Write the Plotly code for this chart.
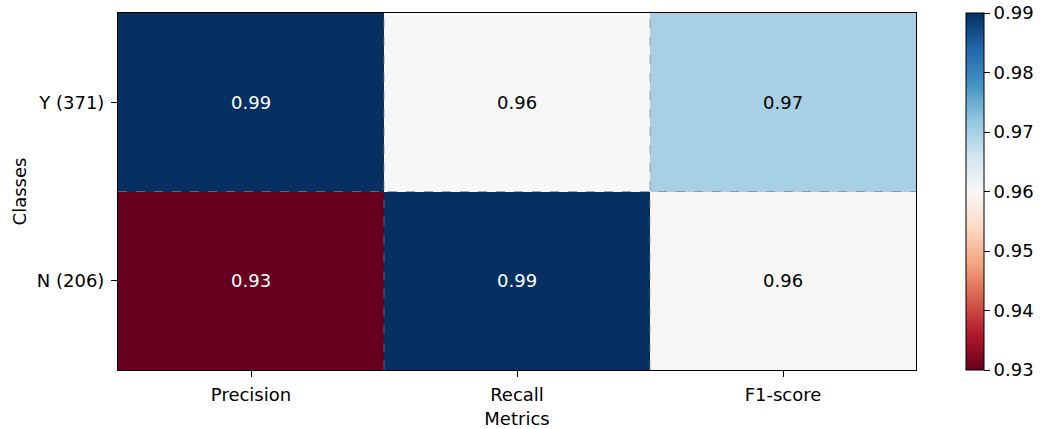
import plotly.graph_objects as go

metrics = ["Precision", "Recall", "F1-score"]
classes = ["Y (371)", "N (206)"]
values = [
    [0.99, 0.96, 0.97],
    [0.93, 0.99, 0.96],
]
cbar_ticks = [0.93, 0.94, 0.95, 0.96, 0.97, 0.98, 0.99]

rdbu = ['rgb(103,0,31)', 'rgb(178,24,43)', 'rgb(214,96,77)', 'rgb(244,165,130)',
        'rgb(253,219,199)', 'rgb(247,247,247)', 'rgb(209,229,240)', 'rgb(146,197,222)',
        'rgb(67,147,195)', 'rgb(33,102,172)', 'rgb(5,48,97)']
colorscale = [[i / (len(rdbu) - 1), c] for i, c in enumerate(rdbu)]

zmin, zmax = 0.93, 0.99
font = "DejaVu Sans"
fs = 18

fig = go.Figure()
fig.add_trace(go.Heatmap(
    z=values, x=metrics, y=classes,
    colorscale=colorscale, zmin=zmin, zmax=zmax,
    xgap=0, ygap=0,
    colorbar=dict(
        x=1.0627, xanchor="left", xpad=0, y=0.5, yanchor="middle", len=1, lenmode="fraction",
        ypad=0, thickness=18, outlinewidth=1, outlinecolor="black",
        tickvals=cbar_ticks, ticktext=[f"{t:.2f}" for t in cbar_ticks],
        ticks="outside", ticklen=6, tickcolor="black",
        tickfont=dict(family=font, size=fs, color="black"),
    ),
    hoverinfo="skip",
))

annotations = []
for i, cls in enumerate(classes):
    for j, m in enumerate(metrics):
        v = values[i][j]
        frac = (v - zmin) / (zmax - zmin)
        color = "white" if (frac < 0.2 or frac > 0.8) else "black"
        annotations.append(dict(x=m, y=cls, text=f"{v:.2f}", showarrow=False,
                                font=dict(family=font, size=fs, color=color)))

shapes = []
for xb in [0.5, 1.5]:
    shapes.append(dict(type="line", xref="x", yref="paper", x0=xb, x1=xb, y0=0, y1=1,
                       line=dict(color="rgba(128,128,128,0.7)", width=1, dash="dash"), layer="above"))
shapes.append(dict(type="line", xref="paper", yref="y", x0=0, x1=1, y0=0.5, y1=0.5,
                   line=dict(color="rgba(128,128,128,0.7)", width=1, dash="dash"), layer="above"))

fig.update_layout(
    width=1043, height=429,
    margin=dict(l=118, r=127, t=13, b=59, autoexpand=False),
    paper_bgcolor="white", plot_bgcolor="white",
    font=dict(family=font, size=fs, color="black"),
    annotations=annotations,
    shapes=shapes,
    xaxis=dict(title=dict(text="Metrics", font=dict(family=font, size=fs), standoff=10),
               tickfont=dict(family=font, size=fs), ticks="outside", ticklen=6, tickcolor="black",
               ticklabelstandoff=2, automargin=False,
               showline=True, linecolor="black", linewidth=1, mirror=True, showgrid=False, zeroline=False),
    yaxis=dict(title=dict(text="Classes", font=dict(family=font, size=fs), standoff=5),
               tickfont=dict(family=font, size=fs), ticks="outside", ticklen=6, tickcolor="black",
               ticklabelstandoff=3, automargin=False,
               showline=True, linecolor="black", linewidth=1, mirror=True, showgrid=False, zeroline=False,
               autorange="reversed"),
)

fig.write_html("out.html")
